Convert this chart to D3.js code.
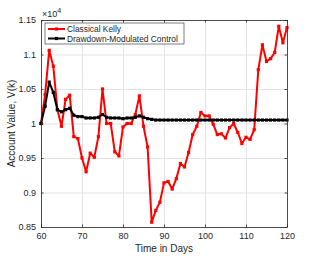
<!doctype html>
<html>
<head>
<meta charset="utf-8">
<style>
	body {
		margin: 0;
		background: #fff;
	}
	svg text {
		font-family: "Liberation Sans", Arial, sans-serif;
		fill: #262626;
	}
	.grid line {
		stroke: #e3e3e3;
		stroke-width: 1px;
	}
	.grid path {
		stroke: none;
	}
	.axis path, .axis line {
		stroke: #262626;
		stroke-width: 0.8px;
	}
	.series {
		fill: none;
		stroke-width: 2px;
		stroke-linejoin: round;
	}
</style>
<script src="https://d3js.org/d3.v7.min.js"></script>
</head>
<body>
<div id="canvas"></div>
<script>
	// days 60..120
	var days = d3.range(60, 121);

	var kelly = [
		10000, 10420, 11060, 10830, 10200, 9960, 10350, 10410, 9810, 9780,
		9500, 9300, 9570, 9510, 9810, 10500, 10000, 10000, 9590, 9530,
		9950, 10000, 10000, 10130, 10400, 9960, 9660, 8570, 8740, 8860,
		9140, 9160, 9050, 9200, 9420, 9370, 9580, 9840, 9960, 10160,
		10110, 10110, 9990, 9840, 9850, 9790, 9940, 10000, 9870, 9710,
		9800, 9770, 9910, 10780, 11140, 10900, 10940, 11030, 11410, 11170,
		11390
	];

	var control = [
		10000, 10250, 10600, 10450, 10200, 10170, 10200, 10220, 10120, 10100,
		10100, 10080, 10080, 10080, 10090, 10130, 10090, 10080, 10080, 10080,
		10070, 10080, 10080, 10090, 10110, 10090, 10070, 10060, 10050, 10050,
		10050, 10050, 10050, 10050, 10050, 10050, 10050, 10050, 10050, 10050,
		10050, 10050, 10050, 10050, 10050, 10050, 10050, 10050, 10050, 10050,
		10050, 10050, 10050, 10050, 10050, 10050, 10050, 10050, 10050, 10050,
		10050
	];

	var seriesNames = ["Classical Kelly", "Drawdown-Modulated Control"];
	var seriesColors = ["#ff0000", "#000000"];
	var xTicks = [60, 70, 80, 90, 100, 110, 120];
	var yTicks = [8500, 9000, 9500, 10000, 10500, 11000, 11500];

	var width = 318,
		height = 256,
		margin = {top: 20, right: 31, bottom: 29, left: 41};

	var svg = d3.select("#canvas")
		.append("svg")
		.attr("width", width)
		.attr("height", height);

	var x = d3.scaleLinear()
		.domain([60, 120])
		.range([margin.left, width - margin.right]);

	var y = d3.scaleLinear()
		.domain([8500, 11500])
		.range([height - margin.bottom, margin.top]);

	// grid
	svg.append("g")
		.attr("class", "grid")
		.attr("transform", `translate(0, ${height - margin.bottom})`)
		.call(d3.axisBottom(x).tickValues(xTicks)
			.tickSize(-(height - margin.top - margin.bottom)).tickFormat(""));

	svg.append("g")
		.attr("class", "grid")
		.attr("transform", `translate(${margin.left}, 0)`)
		.call(d3.axisLeft(y).tickValues(yTicks)
			.tickSize(-(width - margin.left - margin.right)).tickFormat(""));

	// data lines
	var sets = [kelly, control];
	sets.forEach(function(vals, i) {
		var pts = days.map((d, j) => [d, vals[j]]);
		svg.append("path")
			.datum(pts)
			.attr("class", "series")
			.attr("stroke", seriesColors[i])
			.attr("d", d3.line().x(d => x(d[0])).y(d => y(d[1])));
		svg.append("g").selectAll("rect")
			.data(pts).enter()
			.append("rect")
			.attr("x", d => x(d[0]) - 1.6)
			.attr("y", d => y(d[1]) - 1.6)
			.attr("width", 3.2)
			.attr("height", 3.2)
			.attr("fill", seriesColors[i]);
	});

	// axes with inward ticks on all sides
	var fmt = d => d3.format("")(+(d / 1e4).toFixed(2));
	svg.append("g")
		.attr("class", "axis")
		.attr("transform", `translate(0, ${height - margin.bottom})`)
		.call(d3.axisBottom(x).tickValues(xTicks).tickSizeInner(-2.5).tickSizeOuter(0).tickPadding(6))
		.selectAll("text").style("font-size", "9px").attr("fill", "#262626");
	svg.append("g")
		.attr("class", "axis")
		.attr("transform", `translate(0, ${margin.top})`)
		.call(d3.axisTop(x).tickValues(xTicks).tickSizeInner(-2.5).tickSizeOuter(0).tickFormat(""));
	svg.append("g")
		.attr("class", "axis")
		.attr("transform", `translate(${margin.left}, 0)`)
		.call(d3.axisLeft(y).tickValues(yTicks).tickSizeInner(-2.5).tickSizeOuter(0).tickPadding(5).tickFormat(fmt))
		.selectAll("text").style("font-size", "9px").attr("fill", "#262626");
	svg.append("g")
		.attr("class", "axis")
		.attr("transform", `translate(${width - margin.right}, 0)`)
		.call(d3.axisRight(y).tickValues(yTicks).tickSizeInner(-2.5).tickSizeOuter(0).tickFormat(""));

	// exponent label
	var expo = svg.append("text")
		.attr("x", margin.left + 1)
		.attr("y", margin.top - 3)
		.style("font-size", "9px");
	expo.append("tspan").text("\u00d710");
	expo.append("tspan").attr("dy", -4).style("font-size", "7px").text("4");

	// axis titles
	svg.append("text")
		.attr("x", (margin.left + width - margin.right) / 2)
		.attr("y", 252)
		.attr("text-anchor", "middle")
		.style("font-size", "10px")
		.text("Time in Days");
	svg.append("text")
		.attr("transform", `translate(15, ${(margin.top + height - margin.bottom) / 2}) rotate(-90)`)
		.attr("text-anchor", "middle")
		.style("font-size", "10px")
		.text("Account Value, V(k)");

	// legend
	var lg = svg.append("g").attr("transform", "translate(45, 23)");
	lg.append("rect")
		.attr("width", 139).attr("height", 21)
		.attr("fill", "#fff").attr("stroke", "#262626").attr("stroke-width", 0.6);
	seriesNames.forEach(function(n, i) {
		var yy = 6 + i * 9.5;
		lg.append("line")
			.attr("x1", 3).attr("x2", 20).attr("y1", yy).attr("y2", yy)
			.attr("stroke", seriesColors[i]).attr("stroke-width", 2);
		lg.append("rect")
			.attr("x", 9.9).attr("y", yy - 1.6).attr("width", 3.2).attr("height", 3.2)
			.attr("fill", seriesColors[i]);
		lg.append("text")
			.attr("x", 22).attr("y", yy + 3)
			.style("font-size", "8.4px")
			.text(n);
	});
</script>
</body>
</html>
